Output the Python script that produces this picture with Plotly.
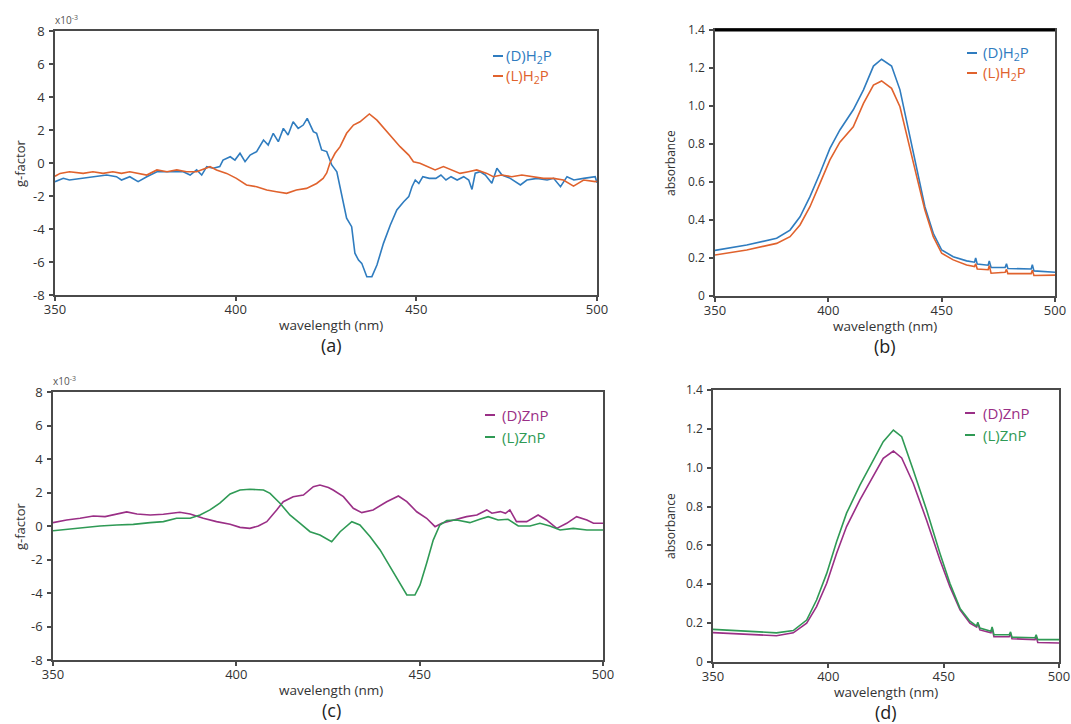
import plotly.graph_objects as go

W, H = 1071, 724

# ---------------- data ----------------
# (a) CD g-factor (x10^-3) of H2P
a_D_x = [350, 352.3, 354, 357.8, 361.5, 364.3, 367, 368.4, 370.7, 373, 375.4, 378.2, 381.9, 385.5, 387.4,
         389.2, 390.6, 392, 393.8, 395.6, 396.5, 398.5, 399.8, 401.2, 402.6, 404, 405.8, 407.7, 409, 410.4,
         411.8, 413.2, 414.5, 415.9, 417.3, 418.7, 419.8, 421.5, 422.4, 423.8, 425.2, 426.6, 428, 429.8,
         430.7, 432.1, 433, 434, 434.9, 436.3, 437.7, 439.1, 440.9, 442.8, 444.6, 446.5, 447.9, 448.8,
         449.7, 450.7, 451.8, 453.6, 455.4, 456.8, 458.2, 459.6, 461.3, 463.1, 464.5, 465.4, 466.3, 467.7,
         469.1, 470.9, 472.3, 473.7, 476, 478.8, 480.6, 483.4, 486.2, 488, 489.9, 491.7, 493.6, 496.3,
         499.5, 500]
a_D_y = [-1.13, -0.93, -1.03, -0.93, -0.83, -0.73, -0.83, -1.03, -0.83, -1.13, -0.83, -0.53, -0.53, -0.53,
         -0.73, -0.42, -0.73, -0.22, -0.32, -0.22, 0.18, 0.38, 0.18, 0.59, 0.08, 0.48, 0.69, 1.39, 1.09,
         1.8, 1.29, 2.1, 1.7, 2.5, 2.1, 2.3, 2.7, 1.9, 1.8, 0.79, 0.69, -0.12, -0.53, -2.44, -3.35, -3.86,
         -5.47, -5.88, -6.08, -6.89, -6.89, -6.18, -4.87, -3.76, -2.85, -2.35, -2.04, -1.44, -1.03, -1.24,
         -0.83, -0.93, -0.93, -0.73, -1.03, -0.83, -1.03, -0.83, -1.03, -1.6, -0.62, -0.53, -0.73, -1.23,
         -0.32, -0.73, -0.93, -1.33, -1.03, -0.93, -1.03, -0.93, -1.44, -0.83, -1.03, -0.93, -0.83, -1.2]

a_L_x = [350, 351.4, 354, 357.8, 360.5, 363.3, 366, 368.4, 370.7, 373.4, 375.4, 378.2, 381, 383.7, 386.4,
         389.2, 391.5, 392.9, 394.7, 397.5, 400.2, 403, 405.8, 408.6, 411.3, 414.1, 416.8, 419.6, 422.4,
         424.2, 425.2, 426.1, 427.5, 428.9, 430.7, 432.6, 434.4, 437, 439.1, 441.4, 443.2, 445.5, 447.9,
         449.2, 451, 452.9, 455.2, 457.5, 459.8, 462.1, 464.4, 466.7, 469.5, 471.3, 473.6, 476.4, 479.2,
         482.4, 485.2, 488, 490.7, 493.5, 496.3, 499.5, 500]
a_L_y = [-0.8, -0.63, -0.53, -0.63, -0.53, -0.63, -0.53, -0.63, -0.53, -0.63, -0.73, -0.42, -0.53, -0.42,
         -0.53, -0.53, -0.32, -0.22, -0.42, -0.63, -0.93, -1.33, -1.44, -1.64, -1.74, -1.84, -1.64, -1.54,
         -1.24, -0.93, -0.6, 0.0, 0.59, 0.99, 1.8, 2.3, 2.5, 2.97, 2.6, 2.0, 1.6, 0.99, 0.48, 0.08, -0.02,
         -0.22, -0.42, -0.22, -0.42, -0.63, -0.53, -0.42, -0.63, -0.83, -0.73, -0.83, -0.73, -0.83, -0.93,
         -0.93, -1.03, -1.4, -1.03, -1.13, -1.1]

# (b) absorbance of H2P
b_x = [350, 364, 377.2, 383.1, 387.5, 391.9, 396.3, 400.7, 405.1, 411, 415.5, 419.9, 423.5, 427.9, 431.6,
       435.3, 439, 442.6, 446.3, 450, 455.1, 461, 464.5, 465, 465.7, 470.5, 471, 471.8, 478, 478.6, 479.2,
       489.5, 490, 490.7, 500]
b_D_y = [0.24, 0.268, 0.304, 0.347, 0.417, 0.523, 0.646, 0.777, 0.874, 0.98, 1.085, 1.21, 1.246, 1.21, 1.085,
         0.874, 0.663, 0.47, 0.33, 0.242, 0.207, 0.185, 0.178, 0.2, 0.168, 0.162, 0.185, 0.15, 0.15, 0.17,
         0.145, 0.142, 0.165, 0.132, 0.125]
b_L_y = [0.216, 0.242, 0.277, 0.312, 0.374, 0.47, 0.593, 0.716, 0.81, 0.89, 1.014, 1.11, 1.132, 1.093, 0.996,
         0.82, 0.628, 0.453, 0.312, 0.225, 0.19, 0.163, 0.155, 0.17, 0.142, 0.138, 0.16, 0.12, 0.125, 0.14,
         0.118, 0.118, 0.135, 0.108, 0.11]

# (c) CD g-factor (x10^-3) of ZnP
c_D_x = [350, 353.7, 357.4, 361, 364.2, 367.4, 370.1, 372.9, 376.5, 380.1, 384.6, 387.4, 391, 394.6, 398.3,
         401, 403.7, 406, 408.3, 411, 412.8, 415.5, 418.3, 421, 422.8, 425.1, 426.4, 429.2, 431.9, 434.2,
         437.3, 441, 444.2, 446.5, 449.2, 451.9, 454.2, 456, 459.2, 462.8, 465.6, 468.3, 469.7, 472, 473.4,
         474.6, 476.4, 479.2, 482.3, 484.6, 487.4, 490.1, 492.8, 495.6, 497.4, 500]
c_D_y = [0.2, 0.36, 0.46, 0.6, 0.56, 0.72, 0.84, 0.72, 0.66, 0.7, 0.82, 0.72, 0.46, 0.26, 0.1, -0.08, -0.14,
         0.0, 0.26, 0.96, 1.45, 1.75, 1.85, 2.35, 2.45, 2.3, 2.15, 1.75, 1.06, 0.8, 0.96, 1.45, 1.79, 1.45,
         0.85, 0.46, -0.04, 0.16, 0.36, 0.56, 0.66, 0.96, 0.76, 0.86, 0.76, 0.96, 0.26, 0.26, 0.66, 0.36,
         -0.14, 0.16, 0.56, 0.36, 0.16, 0.16]

c_L_x = [350, 353.7, 358.3, 362.8, 367.4, 371.9, 376.5, 380.1, 383.7, 387.4, 390.1, 392.8, 395.5, 398.3, 401,
         403.7, 407.4, 409.2, 411.9, 414.6, 417.4, 420.1, 422.8, 426, 428.3, 431.5, 433.7, 436.5, 439.2,
         441.9, 444.2, 446.5, 448.7, 450.1, 451.9, 453.7, 455.5, 457.4, 460.1, 463.7, 466.4, 468.7, 471.4,
         474.1, 476.9, 480.1, 482.8, 485.5, 488.3, 491.9, 495.6, 500]
c_L_y = [-0.28, -0.2, -0.08, 0.0, 0.06, 0.1, 0.2, 0.26, 0.46, 0.46, 0.66, 0.96, 1.36, 1.91, 2.15, 2.19, 2.15,
         1.95, 1.36, 0.66, 0.16, -0.34, -0.54, -0.94, -0.34, 0.26, 0.06, -0.64, -1.43, -2.43, -3.22, -4.12,
         -4.12, -3.52, -2.23, -0.84, 0.06, 0.32, 0.36, 0.2, 0.4, 0.56, 0.36, 0.4, 0.0, 0.0, 0.16, 0.0, -0.24,
         -0.14, -0.24, -0.24]

# (d) absorbance of ZnP
d_x = [350, 364.5, 377.5, 384.8, 390.6, 394.9, 399.3, 403.6, 407.9, 413.7, 419.5, 423.8, 428.2, 431.8, 436.8,
       442.6, 448.4, 452.7, 457.1, 461.4, 464.3, 464.8, 465.7, 470.5, 471, 471.8, 478.4, 479, 479.6, 489.6,
       490.1, 490.8, 500]
d_D_y = [0.151, 0.144, 0.135, 0.15, 0.2, 0.285, 0.405, 0.56, 0.697, 0.834, 0.954, 1.048, 1.086, 1.05, 0.92,
         0.73, 0.525, 0.388, 0.268, 0.2, 0.18, 0.2, 0.165, 0.15, 0.175, 0.13, 0.13, 0.145, 0.12, 0.115, 0.13,
         0.1, 0.098]
d_L_y = [0.168, 0.16, 0.15, 0.162, 0.216, 0.319, 0.456, 0.62, 0.766, 0.91, 1.04, 1.134, 1.194, 1.16, 0.988,
         0.782, 0.559, 0.405, 0.276, 0.21, 0.185, 0.205, 0.175, 0.158, 0.18, 0.14, 0.14, 0.155, 0.128, 0.125,
         0.14, 0.115, 0.115]

x_ticks = [350, 400, 450, 500]
x_tick_text = ["350", "400", "450", "500"]
g_ticks = [-8, -6, -4, -2, 0, 2, 4, 6, 8]
g_tick_text = ["-8", "-6", "-4", "-2", "0", "2", "4", "6", "8"]
abs_ticks = [0, 0.2, 0.4, 0.6, 0.8, 1.0, 1.2, 1.4]
abs_tick_text = ["0", "0.2", "0.4", "0.6", "0.8", "1.0", "1.2", "1.4"]

names_H2P = ["(D)H<sub>2</sub>P", "(L)H<sub>2</sub>P"]
names_ZnP = ["(D)ZnP", "(L)ZnP"]
captions = ["(a)", "(b)", "(c)", "(d)"]

# ---------------- styles ----------------
BLUE, ORANGE = "#2f7cbf", "#e0622d"
PURPLE, GREEN = "#9a2f86", "#2f9a55"
FONT = "Open Sans"
AX = "#4a4a4a"

def px(x):
    return x / W

def py(y):
    return 1 - y / H

# panel boxes in page pixels: (left, right, top, bottom)
boxes = {
    "a": (55, 597, 31, 295),
    "b": (715, 1055, 30, 296),
    "c": (53, 603, 392, 660),
    "d": (713, 1059, 390, 662),
}

fig = go.Figure()

def add(x, y, color, n, name):
    fig.add_trace(go.Scatter(x=x, y=y, mode="lines", name=name, showlegend=False,
                             line=dict(color=color, width=1.6),
                             xaxis="x" if n == 1 else f"x{n}", yaxis="y" if n == 1 else f"y{n}"))

add(a_D_x, a_D_y, BLUE, 1, "(D)H2P")
add(a_L_x, a_L_y, ORANGE, 1, "(L)H2P")
add(b_x, b_D_y, BLUE, 2, "(D)H2P")
add(b_x, b_L_y, ORANGE, 2, "(L)H2P")
add(c_D_x, c_D_y, PURPLE, 3, "(D)ZnP")
add(c_L_x, c_L_y, GREEN, 3, "(L)ZnP")
add(d_x, d_D_y, PURPLE, 4, "(D)ZnP")
add(d_x, d_L_y, GREEN, 4, "(L)ZnP")

axis_common = dict(showline=True, linecolor=AX, linewidth=1.5, mirror=True, ticks="outside",
                   ticklen=4, tickwidth=1.5, tickcolor=AX, showgrid=False, zeroline=False,
                   automargin=False,
                   tickfont=dict(family=FONT, size=13, color="#333"))

layout = dict(width=W, height=H, margin=dict(l=0, r=0, t=0, b=0, autoexpand=False),
              paper_bgcolor="white", plot_bgcolor="white", showlegend=False)

for i, key in enumerate(["a", "b", "c", "d"]):
    n = i + 1
    l, r, t, b = boxes[key]
    xa = "xaxis" if n == 1 else f"xaxis{n}"
    ya = "yaxis" if n == 1 else f"yaxis{n}"
    xname = "x" if n == 1 else f"x{n}"
    yname = "y" if n == 1 else f"y{n}"
    layout[xa] = dict(axis_common, domain=[px(l), px(r)], range=[350, 500], anchor=yname,
                      tickvals=x_ticks, ticktext=x_tick_text, ticklabelstandoff=-2)
    if key in ("a", "c"):
        layout[ya] = dict(axis_common, domain=[py(b), py(t)], range=[-8, 8], anchor=xname,
                          tickvals=g_ticks, ticktext=g_tick_text, ticklabelstandoff=2)
    else:
        layout[ya] = dict(axis_common, domain=[py(b), py(t)], range=[0, 1.4], anchor=xname,
                          tickvals=abs_ticks, ticktext=abs_tick_text, ticklabelstandoff=2,
                          tickfont=dict(family=FONT, size=12, color="#333"))

fig.update_layout(**layout)

annotations = []
shapes = []

def ann(x, y, text, size, color="#333", xanchor="center", yanchor="middle", angle=0):
    annotations.append(dict(x=px(x), y=py(y), xref="paper", yref="paper", text=text, showarrow=False,
                            xanchor=xanchor, yanchor=yanchor, textangle=angle,
                            font=dict(family=FONT, size=size, color=color)))

# axis titles and captions
for key, cap in zip(["a", "b", "c", "d"], captions):
    l, r, t, b = boxes[key]
    cx = (l + r) / 2 if key in ("b", "d") else 331
    ann(cx, b + 30, "wavelength (nm)", 13.5)
    ann(cx, b + 50, cap, 18, "#222")
    if key in ("a", "c"):
        ann(20, (t + b) / 2, "g-factor", 13, angle=-90)
        ann(l - 2, t - 11, "x10<sup>-3</sup>", 10, "#555", xanchor="left")
    else:
        ann(670, (t + b) / 2, "absorbance", 12, angle=-90)

# legends (short coloured dash + coloured label)
legends = [
    ("a", 493, 504, [56, 76], [BLUE, ORANGE], names_H2P),
    ("b", 967, 981, [53, 73], [BLUE, ORANGE], names_H2P),
    ("c", 485, 500, [415, 437], [PURPLE, GREEN], names_ZnP),
    ("d", 965, 981, [413, 435], [PURPLE, GREEN], names_ZnP),
]
for key, dx, tx, rows, cols, labels in legends:
    for yy, col, lab in zip(rows, cols, labels):
        shapes.append(dict(type="line", xref="paper", yref="paper", x0=px(dx), x1=px(dx + 10),
                           y0=py(yy), y1=py(yy), line=dict(color=col, width=2)))
        ann(tx, yy, lab, 15, col, xanchor="left")

# thick black top frame of panel (b)
l, r, t, b = boxes["b"]
shapes.append(dict(type="line", xref="paper", yref="paper", x0=px(l), x1=px(r), y0=py(t), y1=py(t),
                   line=dict(color="black", width=3)))

fig.update_layout(annotations=annotations, shapes=shapes)
fig.write_html("out.html", config={"displayModeBar": False},
               post_script="document.body.style.margin='0';document.body.style.overflow='hidden';")
